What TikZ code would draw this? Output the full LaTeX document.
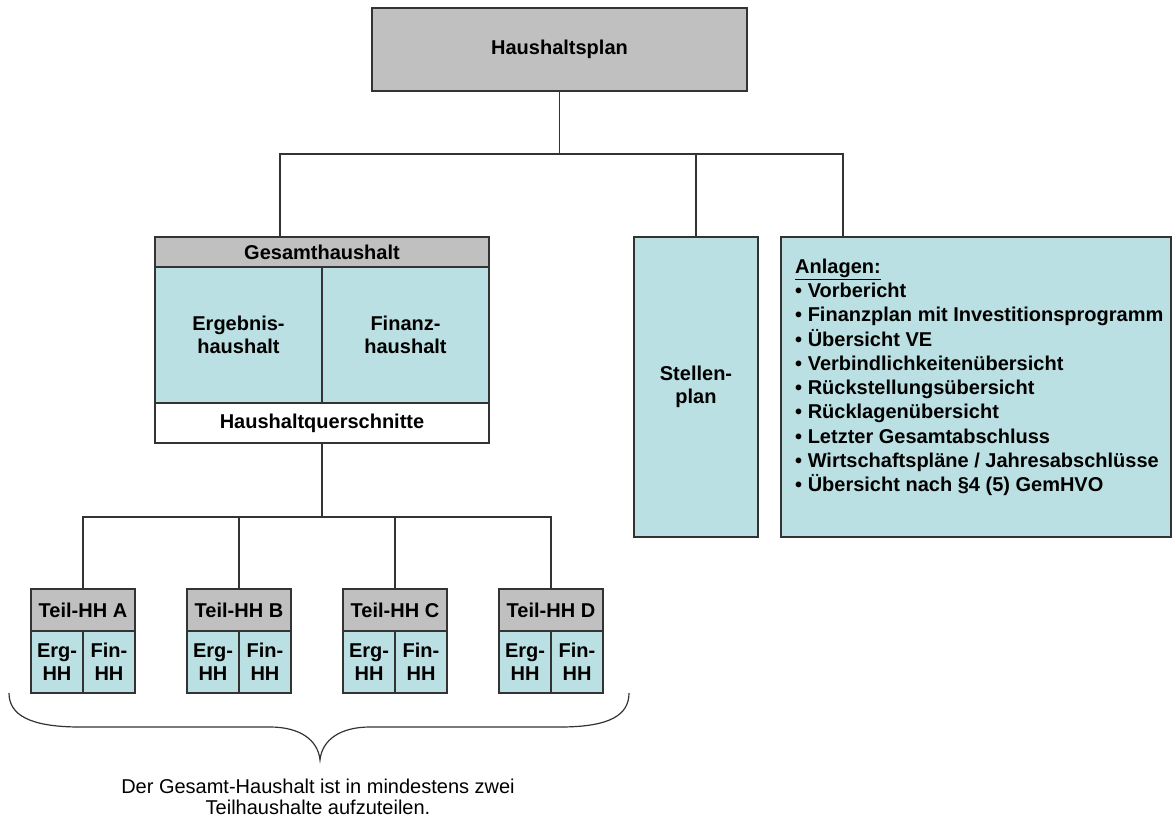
\documentclass[tikz,border=0pt]{standalone}
\usepackage{fontspec}
\setmainfont{Liberation Sans}

\definecolor{kopfgrau}{RGB}{192,192,192}
\definecolor{feldblau}{RGB}{187,224,227}
\definecolor{rahmen}{RGB}{51,51,51}

\tikzset{
  feld/.style={draw=rahmen, line width=1.2pt, inner sep=0pt, align=center,
    font=\fontsize{20}{23}\selectfont\bfseries},
  kopf/.style={feld, fill=kopfgrau},
  blau/.style={feld, fill=feldblau},
  weiss/.style={feld, fill=white},
  linie/.style={draw=rahmen, line width=1.2pt},
  hinweis/.style={inner sep=0pt, align=center, font=\fontsize{20}{21}\selectfont}
}

\begin{document}
\begin{tikzpicture}[x=1pt,y=-1pt]
\useasboundingbox (0,0) rectangle (1172,818);

% oberste Ebene
\node[kopf, minimum width=375, minimum height=83] (plan) at (559.5,49.5) {Haushaltsplan};

% Gesamthaushalt
\node[kopf, minimum width=334, minimum height=30] (gesamt) at (322,252) {Gesamthaushalt};
\node[blau, minimum width=167, minimum height=136] (ergebnis) at (238.5,335) {Ergebnis-\\haushalt};
\node[blau, minimum width=167, minimum height=136] (finanz) at (405.5,335) {Finanz-\\haushalt};
\node[weiss, minimum width=334, minimum height=40] (quer) at (322,423) {Haushaltquerschnitte};

% Stellenplan und Anlagen
\node[blau, minimum width=124, minimum height=300] (stellen) at (696,387) {Stellen-\\plan};
\node[blau, minimum width=390, minimum height=300] (anlagen) at (976,387) {};
\node[anchor=north west, inner sep=0pt, align=left,
      font=\fontsize{20}{24.3}\selectfont\bfseries] (anlagentext) at (795,258.5)
  {\underline{Anlagen:}\\
   • Vorbericht\\
   • Finanzplan mit Investitionsprogramm\\
   • Übersicht VE\\
   • Verbindlichkeitenübersicht\\
   • Rückstellungsübersicht\\
   • Rücklagenübersicht\\
   • Letzter Gesamtabschluss\\
   • Wirtschaftspläne / Jahresabschlüsse\\
   • Übersicht nach §4 (5) GemHVO};

% Teilhaushalte
\node[kopf, minimum width=104, minimum height=42] (teilA) at (83,610) {Teil-HH A};
\node[blau, minimum width=52, minimum height=62] (ergA) at (57,662) {Erg-\\HH};
\node[blau, minimum width=52, minimum height=62] (finA) at (109,662) {Fin-\\HH};
\node[kopf, minimum width=104, minimum height=42] (teilB) at (239,610) {Teil-HH B};
\node[blau, minimum width=52, minimum height=62] (ergB) at (213,662) {Erg-\\HH};
\node[blau, minimum width=52, minimum height=62] (finB) at (265,662) {Fin-\\HH};
\node[kopf, minimum width=104, minimum height=42] (teilC) at (395,610) {Teil-HH C};
\node[blau, minimum width=52, minimum height=62] (ergC) at (369,662) {Erg-\\HH};
\node[blau, minimum width=52, minimum height=62] (finC) at (421,662) {Fin-\\HH};
\node[kopf, minimum width=104, minimum height=42] (teilD) at (551,610) {Teil-HH D};
\node[blau, minimum width=52, minimum height=62] (ergD) at (525,662) {Erg-\\HH};
\node[blau, minimum width=52, minimum height=62] (finD) at (577,662) {Fin-\\HH};

% Verbindungen oben
\coordinate (oben) at (561,154);
\coordinate (zuGesamt) at (280,237);
\coordinate (zuAnlagen) at (843,237);
\draw[linie] (plan.south) -- (plan.south |- oben);
\draw[linie] (zuGesamt) |- (oben) -| (zuAnlagen);
\draw[linie] (stellen.north) -- (stellen.north |- oben);

% Verbindungen unten
\coordinate (unten) at (322,517);
\draw[linie] (quer.south) -- (unten);
\draw[linie] (teilA.north) |- (unten) -| (teilD.north);
\draw[linie] (teilB.north) -- (teilB.north |- unten);
\draw[linie] (teilC.north) -- (teilC.north |- unten);

% Klammer
\draw[linie] (9,693) .. controls (9,715) and (30,727) .. (80,727) -- (270,727)
  .. controls (300,727) and (318,740) .. (320,760)
  .. controls (322,740) and (340,727) .. (370,727) -- (560,727)
  .. controls (610,727) and (629,715) .. (629,693);

\node[hinweis] (text) at (318,797) {Der Gesamt-Haushalt ist in mindestens zwei\\Teilhaushalte aufzuteilen.};
\end{tikzpicture}
\end{document}
